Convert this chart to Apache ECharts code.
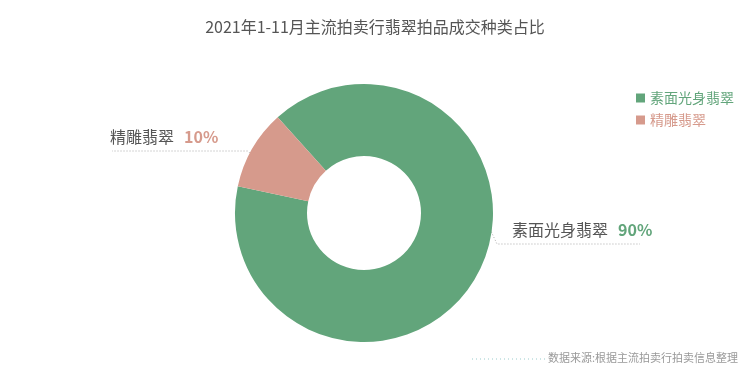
<!DOCTYPE html>
<html><head><meta charset="utf-8">
<script src="https://cdn.jsdelivr.net/npm/echarts@6/dist/echarts.min.js"></script>
<style>html,body{margin:0;padding:0;background:#fff}#c{width:750px;height:371px}</style>
</head><body><div id="c"></div>
<script>
const titleText = '2021年1-11月主流拍卖行翡翠拍品成交种类占比';
const categories = ['素面光身翡翠', '精雕翡翠'];
const values = [90, 10];
const colors = ['#62a57b', '#d69a8c'];
const sourceText = '数据来源:根据主流拍卖行拍卖信息整理';

const font = '"Noto Sans CJK SC", "Noto Sans", sans-serif';
// label placement (layout only)
const labelPlace = [
  {x: 512, y: 230, line: [[490, 229], [497, 244], [640, 244]]},
  {x: 110, y: 137, line: [[262, 166], [248, 151], [112, 151]]}
];
const chart = echarts.init(document.getElementById('c'), null, {renderer: 'canvas'});
chart.setOption({
  animation: false,
  textStyle: {fontFamily: font},
  title: {text: titleText, left: 'center', top: 14,
    textStyle: {fontSize: 16, fontWeight: 'normal', color: '#555', fontFamily: font}},
  legend: {orient: 'vertical', right: 11, top: 86, itemWidth: 9, itemHeight: 9, itemGap: 8,
    icon: 'rect',
    data: categories.map((c, i) => ({name: c, textStyle: {color: colors[i]}})),
    textStyle: {fontSize: 14, fontFamily: font}},
  series: [{
    type: 'pie',
    center: [364, 213],
    radius: [57, 129],
    startAngle: 132,
    data: categories.map((c, i) => ({name: c, value: values[i], itemStyle: {color: colors[i]},
      label: {rich: {per: {color: colors[i]}}}})),
    label: {
      formatter: '{name|{b}}{per|{d}%}',
      rich: {
        name: {fontSize: 16, color: '#555', fontFamily: font, padding: [0, 10, 0, 0]},
        per: {fontSize: 16, fontWeight: 'bold', fontFamily: font}
      }
    },
    labelLine: {show: true, length: 10, length2: 100,
      lineStyle: {color: '#aaa', type: [1, 2], width: 1}},
    labelLayout: function (p) {
      const L = labelPlace[p.dataIndex];
      return {x: L.x, y: L.y, align: 'left', verticalAlign: 'middle', labelLinePoints: L.line};
    }
  }],
  graphic: [
    {type: 'line', shape: {x1: 472, y1: 359, x2: 545, y2: 359},
      style: {stroke: '#9cc', lineWidth: 1, lineDash: [1, 3]}},
    {type: 'text', left: 548, top: 352,
      style: {text: sourceText, fontSize: 11, fill: '#999', fontFamily: font}}
  ]
});
</script></body></html>
